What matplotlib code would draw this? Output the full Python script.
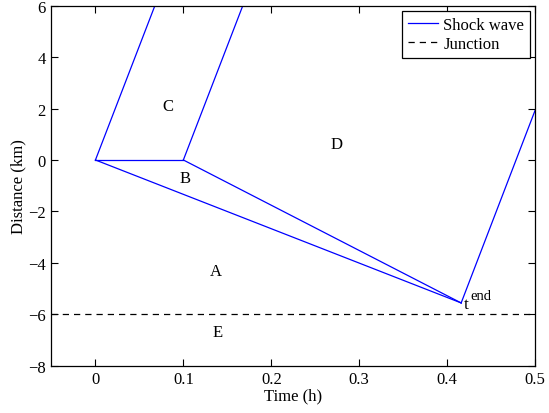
import matplotlib
matplotlib.use("Agg")
import matplotlib.pyplot as plt

plt.rcParams['font.family'] = ['Liberation Serif', 'DejaVu Serif']

# Shock wave segments: (t0, x0, t1, x1)
seg_t0 = [0.0, 0.0, 0.1, 0.0, 0.1, 0.416]
seg_x0 = [0.0, 0.0, 0.0, 0.0, 0.0, -5.56]
seg_t1 = [0.0676, 0.1, 0.1676, 0.416, 0.416, 0.5]
seg_x1 = [6.0, 0.0, 6.0, -5.56, -5.56, 1.92]

junction_y = -6.0

region_labels = ['C', 'B', 'D', 'A', 'E']
region_t = [0.082, 0.102, 0.274, 0.137, 0.139]
region_x = [2.11, -0.70, 0.62, -4.30, -6.68]

fig = plt.figure(figsize=(5.49, 4.14), dpi=100)
ax = fig.add_axes([0.0938, 0.1143, 0.8807, 0.8695])

for i in range(len(seg_t0)):
    ax.plot([seg_t0[i], seg_t1[i]], [seg_x0[i], seg_x1[i]], color='#0000ff', lw=0.9,
            label='Shock wave' if i == 0 else None)
ax.axhline(junction_y, color='black', lw=0.9, ls=(0, (5, 4)), label='Junction')

for lab, t, x in zip(region_labels, region_t, region_x):
    ax.text(t, x, lab, fontsize=12, ha='center', va='center')
ax.text(0.4195, -5.74, 't', fontsize=12.5, ha='left', va='baseline')
ax.text(0.4265, -5.42, 'end', fontsize=10.5, ha='left', va='baseline')

ax.set_xlim(-0.05, 0.5)
ax.set_ylim(-8, 6)
ax.set_xticks([0, 0.1, 0.2, 0.3, 0.4, 0.5])
ax.set_xticklabels(['0', '0.1', '0.2', '0.3', '0.4', '0.5'])
ax.set_yticks([-8, -6, -4, -2, 0, 2, 4, 6])
ax.set_yticklabels(['\u22128', '\u22126', '\u22124', '\u22122', '0', '2', '4', '6'])
ax.tick_params(direction='in', top=True, right=True, labelsize=12, length=5, width=0.8, pad=4)
for s in ax.spines.values():
    s.set_linewidth(0.9)
ax.set_xlabel('Time (h)', fontsize=12, labelpad=0)
ax.set_ylabel('Distance (km)', fontsize=12, labelpad=1)

leg = ax.legend(loc='upper right', fontsize=12, fancybox=False, edgecolor='black',
                framealpha=1, handlelength=1.8, borderpad=0.35, labelspacing=0.2,
                handletextpad=0.3, borderaxespad=0.3)
leg.get_frame().set_linewidth(0.9)

fig.savefig('out.png', dpi=100)
